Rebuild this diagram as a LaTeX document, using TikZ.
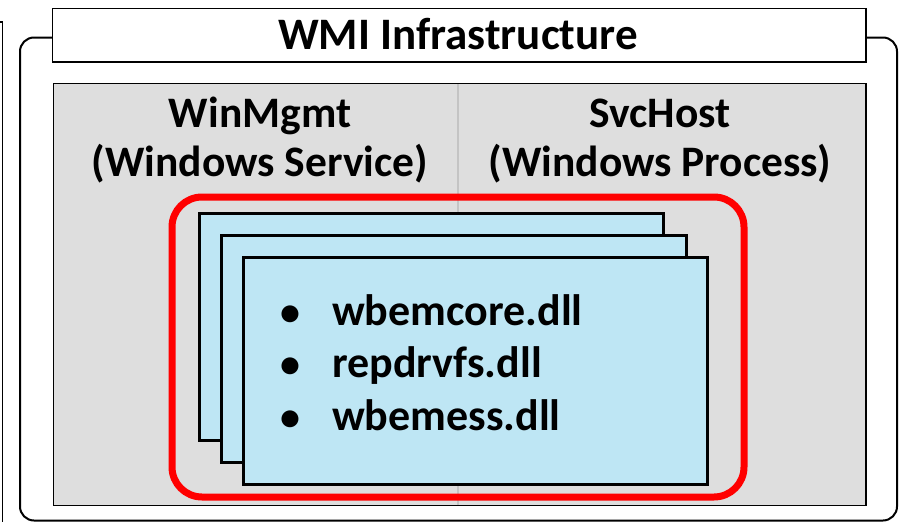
\documentclass[tikz,border=0pt]{standalone}
\usepackage{fontspec}
\setmainfont{Carlito}
\definecolor{panelgray}{HTML}{DEDEDE}
\definecolor{dllblue}{HTML}{BEE6F4}
\definecolor{divgray}{HTML}{C4C4C4}
\begin{document}
\begin{tikzpicture}[x=1pt,y=-1pt,
  frame/.style={draw=black,line width=2pt,rounded corners=14pt},
  titlebox/.style={draw=black,line width=1.6pt,fill=white},
  panel/.style={draw=black,line width=1.4pt,fill=panelgray},
  redbox/.style={draw=red,line width=7pt,rounded corners=30pt},
  dllbox/.style={draw=black,line width=3pt,fill=dllblue},
  titletext/.style={font=\bfseries\fontsize{45}{50}\selectfont,inner sep=0pt,anchor=base},
  coltext/.style={font=\bfseries\fontsize{43.5}{49}\selectfont,inner sep=0pt,anchor=base},
  dlltext/.style={font=\bfseries\fontsize{44}{50}\selectfont,inner sep=0pt,anchor=base west},
  bullettext/.style={font=\bfseries\fontsize{40}{45}\selectfont,inner sep=0pt,anchor=base}]
\useasboundingbox (0,0) rectangle (900,522);
% partial box at far left
\draw[line width=1.5pt] (0,22) -- (2.5,22) -- (2.5,524);
% outer rounded frame
\draw[frame] (20,37.5) rectangle (897,520.5);
% title box
\draw[titlebox] (52.5,8.5) rectangle (866,62);
\node[titletext] (title) at (458,49.5) {WMI Infrastructure};
% gray panel
\draw[panel] (53.5,83.5) rectangle (866,505.5);
\coordinate (divtop) at (458,84.3);
\coordinate (divbot) at (458,504.7);
\draw[divgray,line width=1.2pt] (divtop) -- (divbot);
% column titles
\node[coltext] (winmgmt) at (260,127.5) {WinMgmt};
\node[coltext] (winsvc) at (260,176.5) {(Windows Service)};
\node[coltext] (svchost) at (660,127.5) {SvcHost};
\node[coltext] (winproc) at (660,176.5) {(Windows Process)};
% red grouping box
\draw[redbox] (172,197) rectangle (744,497);
% stacked dll boxes
\draw[dllbox] (199.5,213.5) rectangle (663.5,440);
\draw[dllbox] (221.5,235.5) rectangle (686,462);
\draw[dllbox] (243.5,257.5) rectangle (707.5,484);
% bullets
\node[bullettext] (b1) at (290,325) {•};
\node[bullettext] (b2) at (290,377) {•};
\node[bullettext] (b3) at (290,430) {•};
\node[dlltext] (d1) at (332,325) {wbemcore.dll};
\node[dlltext] (d2) at (332,377) {repdrvfs.dll};
\node[dlltext] (d3) at (332,430) {wbemess.dll};
\end{tikzpicture}
\end{document}
